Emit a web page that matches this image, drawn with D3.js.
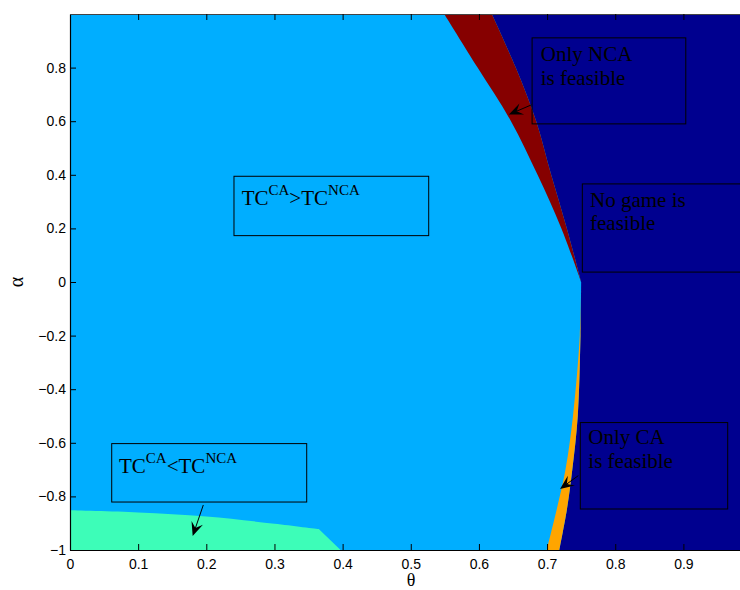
<!DOCTYPE html>
<html>
<head>
<meta charset="utf-8">
<script src="https://cdn.jsdelivr.net/npm/d3@7"></script>
<style>
  body { margin: 0; background: #fff; }
  svg { display: block; }
</style>
</head>
<body>
<script>
// tick values and labels
const thetaTicks = [0, 0.1, 0.2, 0.3, 0.4, 0.5, 0.6, 0.7, 0.8, 0.9]
const thetaTickLabels = ['0', '0.1', '0.2', '0.3', '0.4', '0.5', '0.6', '0.7', '0.8', '0.9']
const alphaTicks = [-1, -0.8, -0.6, -0.4, -0.2, 0, 0.2, 0.4, 0.6, 0.8]
const alphaTickLabels = ['\u22121', '\u22120.8', '\u22120.6', '\u22120.4', '\u22120.2', '0', '0.2', '0.4', '0.6', '0.8']

// region boundaries as [theta, alpha]
// light blue / dark red ("only NCA" band left edge)
const ncaLeft = [[0.549, 1], [0.598, 0.8], [0.647, 0.6], [0.686, 0.4], [0.721, 0.2], [0.75, 0]]
// dark red / dark blue
const ncaRight = [[0.619, 1], [0.654, 0.8], [0.684, 0.6], [0.706, 0.4], [0.729, 0.2], [0.75, 0]]
// light blue / orange ("only CA" band left edge)
const caLeft = [[0.75, 0], [0.748, -0.2], [0.738, -0.5], [0.727, -0.7], [0.714, -0.85], [0.6995, -1]]
// orange / dark blue
const caRight = [[0.75, 0], [0.749, -0.2], [0.745, -0.5], [0.737, -0.7], [0.729, -0.85], [0.718, -1]]
// top of the TC^CA < TC^NCA region
const lowerTop = [[0, -0.852], [0.1, -0.86], [0.2, -0.875], [0.3, -0.902], [0.365, -0.922]]
const lowerFoot = [[0.365, -0.922], [0.397, -1]]

const colors = {
    bg: '#00AEFF',
    none: '#00008F',
    nca: '#860000',
    ca: '#FFA500',
    lower: '#3DFDB8'
}

// annotation boxes, in data units
const boxes = [
    { x0: 0.678, x1: 0.9035, y0: 0.911, y1: 0.590, tx: 0.6907, lines: ['Only NCA', 'is feasible'], base: 0.824 },
    { x0: 0.7517, x1: 1.02, y0: 0.366, y1: 0.037, tx: 0.763, lines: ['No game is', 'feasible'], base: 0.280 },
    { x0: 0.7487, x1: 0.965, y0: -0.5245, y1: -0.847, tx: 0.7605, lines: ['Only CA', 'is feasible'], base: -0.605 }
]
const tcBoxes = [
    { x0: 0.2406, x1: 0.5263, y0: 0.3945, y1: 0.173, tx: 0.2519, base: 0.286, op: '>' },
    { x0: 0.0612, x1: 0.3473, y0: -0.603, y1: -0.821, tx: 0.0719, base: -0.7135, op: '<' }
]
const arrows = [
    { from: [0.677, 0.661], to: [0.644, 0.625] },
    { from: [0.7458, -0.7225], to: [0.719, -0.772] },
    { from: [0.1956, -0.832], to: [0.180, -0.948] }
]

const w = 740
const h = 590
const mLeft = 70
const mTop = 14
const mBottom = 550

// 0.9 sits at x = 683.4; the figure is cut off at the right edge
const xMax = 0.9 * (w - mLeft) / (683.4 - mLeft)
const x = d3.scaleLinear().domain([0, xMax]).range([mLeft, w])
const y = d3.scaleLinear().domain([-1, 1]).range([mBottom, mTop])

const svg = d3.select('body').append('svg')
    .attr('width', w)
    .attr('height', h)

svg.append('defs').append('clipPath').attr('id', 'plot')
    .append('rect')
    .attr('x', mLeft).attr('y', mTop)
    .attr('width', w - mLeft).attr('height', mBottom - mTop)

const line = d3.line().x(d => x(d[0])).y(d => y(d[1]))
const curve = d3.line().x(d => x(d[0])).y(d => y(d[1])).curve(d3.curveCatmullRom)
// join boundary pieces into one closed path
const join = parts => parts.map((p, i) => i ? p.replace(/^M/, 'L') : p).join('') + 'Z'

const plot = svg.append('g').attr('clip-path', 'url(#plot)')

plot.append('rect')
    .attr('x', x(0)).attr('y', y(1))
    .attr('width', x(xMax) - x(0)).attr('height', y(-1) - y(1))
    .attr('fill', colors.bg)

// dark blue region
plot.append('path')
    .attr('d', join([
        line([[xMax + 0.05, 1]]),
        curve(ncaRight),
        curve(caRight),
        line([[xMax + 0.05, -1]])
    ]))
    .attr('fill', colors.none)

// only NCA band
plot.append('path')
    .attr('d', join([curve(ncaLeft), curve(ncaRight.slice().reverse())]))
    .attr('fill', colors.nca)

// only CA band
plot.append('path')
    .attr('d', join([curve(caLeft), curve(caRight.slice().reverse())]))
    .attr('fill', colors.ca)

// TC^CA < TC^NCA region
plot.append('path')
    .attr('d', join([line([[0, -1]]), curve(lowerTop), line(lowerFoot)]))
    .attr('fill', colors.lower)

// annotation boxes
const serif = '"Liberation Serif", "Times New Roman", serif'
boxes.forEach(b => {
    plot.append('rect')
        .attr('x', x(b.x0)).attr('y', y(b.y0))
        .attr('width', x(b.x1) - x(b.x0)).attr('height', y(b.y1) - y(b.y0))
        .attr('fill', 'none').attr('stroke', '#000').attr('stroke-width', 1)
    const t = plot.append('text')
        .attr('x', x(b.tx)).attr('y', y(b.base))
        .attr('font-family', serif).attr('font-size', 21).attr('fill', '#000')
    b.lines.forEach((s, i) => {
        t.append('tspan').attr('x', x(b.tx)).attr('dy', i ? 23.4 : 0).text(s)
    })
})

tcBoxes.forEach(b => {
    plot.append('rect')
        .attr('x', x(b.x0)).attr('y', y(b.y0))
        .attr('width', x(b.x1) - x(b.x0)).attr('height', y(b.y1) - y(b.y0))
        .attr('fill', 'none').attr('stroke', '#000').attr('stroke-width', 1)
    const t = plot.append('text')
        .attr('x', x(b.tx)).attr('y', y(b.base))
        .attr('font-family', serif).attr('font-size', 21).attr('fill', '#000')
    t.append('tspan').text('TC')
    t.append('tspan').attr('font-size', 15).attr('dy', -10).text('CA')
    t.append('tspan').attr('dy', 10).text(b.op)
    t.append('tspan').text('TC')
    t.append('tspan').attr('font-size', 15).attr('dy', -10).text('NCA')
})

// arrows
arrows.forEach(a => {
    const x1 = x(a.from[0]), y1 = y(a.from[1])
    const x2 = x(a.to[0]), y2 = y(a.to[1])
    const len = Math.hypot(x2 - x1, y2 - y1)
    const ux = (x2 - x1) / len, uy = (y2 - y1) / len
    const px = -uy, py = ux
    const hl = 14, hw = 6
    plot.append('line')
        .attr('x1', x1).attr('y1', y1)
        .attr('x2', x2 - ux * hl * 0.6).attr('y2', y2 - uy * hl * 0.6)
        .attr('stroke', '#000').attr('stroke-width', 1)
    const pts = [
        [x2, y2],
        [x2 - ux * hl + px * hw, y2 - uy * hl + py * hw],
        [x2 - ux * hl * 0.6, y2 - uy * hl * 0.6],
        [x2 - ux * hl - px * hw, y2 - uy * hl - py * hw]
    ]
    plot.append('path').attr('d', 'M' + pts.join('L') + 'Z').attr('fill', '#000')
})

// axes
const sans = '"Liberation Sans", Arial, sans-serif'
const xAxis = d3.axisBottom(x).tickValues(thetaTicks)
    .tickFormat((d, i) => thetaTickLabels[i])
    .tickSizeInner(-6).tickSizeOuter(0).tickPadding(9)
const yAxis = d3.axisLeft(y).tickValues(alphaTicks)
    .tickFormat((d, i) => alphaTickLabels[i])
    .tickSizeInner(-6).tickSizeOuter(0).tickPadding(4)
const topAxis = d3.axisTop(x).tickValues(thetaTicks.slice(1))
    .tickFormat('').tickSizeInner(-6).tickSizeOuter(0)

const gx = svg.append('g').attr('transform', `translate(0,${mBottom})`).call(xAxis)
const gy = svg.append('g').attr('transform', `translate(${mLeft},0)`).call(yAxis)
const gt = svg.append('g').attr('transform', `translate(0,${mTop})`).call(topAxis)

;[gx, gy, gt].forEach(g => {
    g.attr('font-family', sans).attr('font-size', 14)
    g.selectAll('.domain').attr('stroke', '#000').attr('stroke-width', 1.2)
    g.selectAll('.tick line').attr('stroke', '#000')
    g.selectAll('.tick text').attr('fill', '#000')
})
gt.select('.domain').attr('stroke', '#444')

// axis titles
svg.append('text')
    .attr('x', 411).attr('y', 586)
    .attr('text-anchor', 'middle')
    .attr('font-family', serif).attr('font-size', 18)
    .text('\u03b8')

svg.append('text')
    .attr('transform', 'translate(23,282) rotate(-90)')
    .attr('text-anchor', 'middle')
    .attr('font-family', serif).attr('font-size', 20)
    .text('\u03b1')
</script>
</body>
</html>
